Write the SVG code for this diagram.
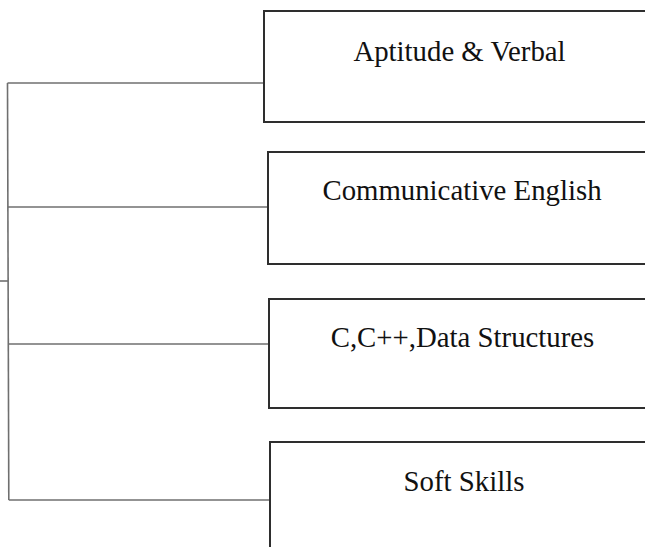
<svg xmlns="http://www.w3.org/2000/svg" width="645" height="547" viewBox="0 0 645 547">
<style>
.box{fill:#fff;stroke:#2e2e2e;stroke-width:2}
.lbl{font-family:"Liberation Serif","Times New Roman",serif;font-size:28.8px;fill:#111;text-anchor:middle}
.con{fill:none;stroke:#6f6f6f;stroke-width:1.6}
</style>
<rect width="645" height="547" fill="#fff"/>
<g id="connectors">
<path class="con" d="M7.5 83 L8.8 500"/>
<path class="con" d="M7.5 83 H264"/>
<path class="con" d="M8 207 H268"/>
<path class="con" d="M8.4 344 H269"/>
<path class="con" d="M8.8 500 H270"/>
<path class="con" d="M0 281 H8"/>
</g>
<g id="node-aptitude">
<rect class="box" x="264" y="11" width="400" height="111"/>
<text class="lbl" x="459.5" y="61">Aptitude &amp; Verbal</text>
</g>
<g id="node-communicative">
<rect class="box" x="268" y="152" width="400" height="112"/>
<text class="lbl" x="462" y="200">Communicative English</text>
</g>
<g id="node-cds">
<rect class="box" x="269" y="299" width="400" height="109"/>
<text class="lbl" x="462.5" y="347">C,C++,Data Structures</text>
</g>
<g id="node-softskills">
<rect class="box" x="270" y="442" width="400" height="120"/>
<text class="lbl" x="464" y="491">Soft Skills</text>
</g>
</svg>
